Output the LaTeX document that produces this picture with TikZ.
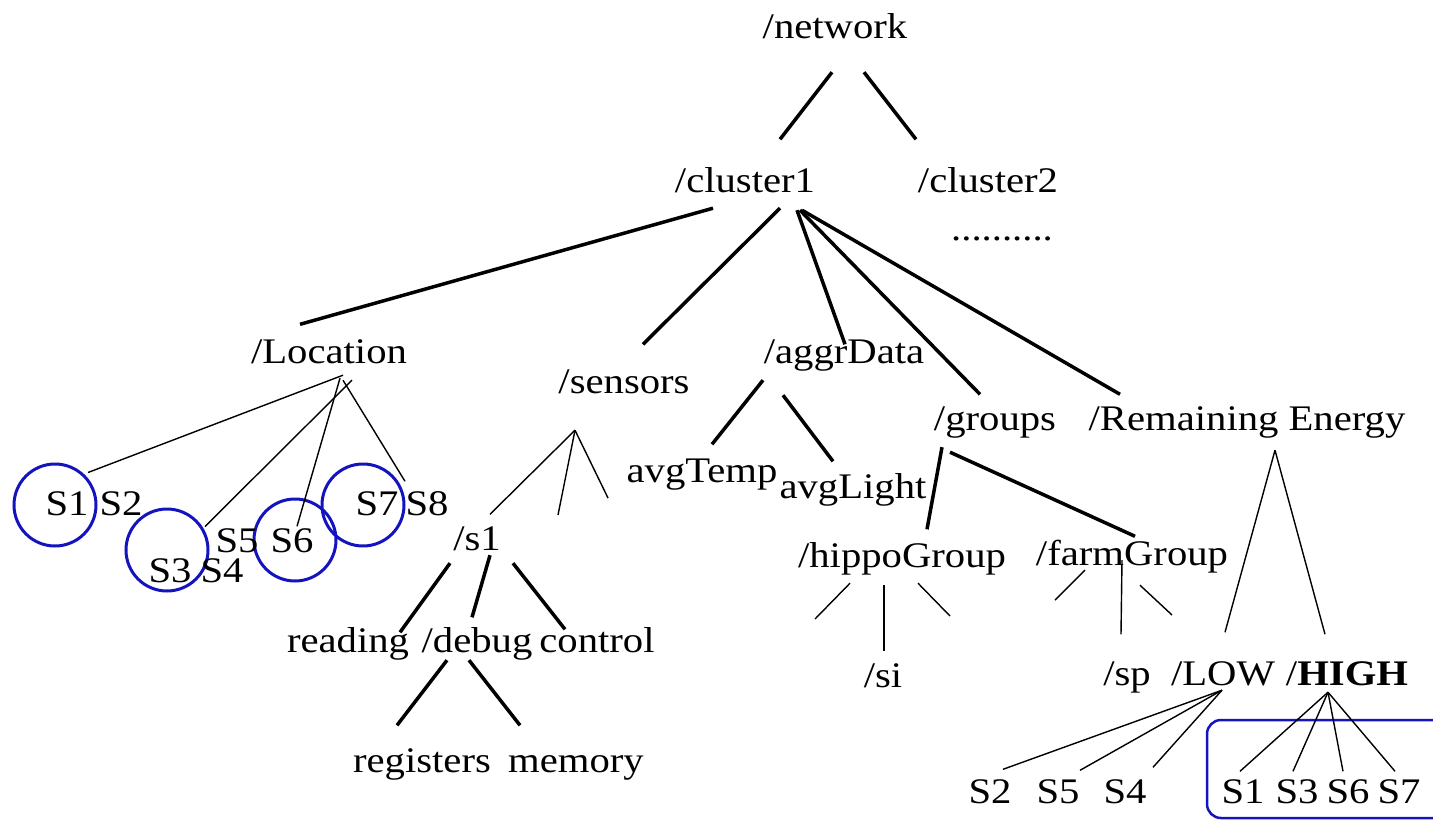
\documentclass[tikz,border=0pt]{standalone}
\usepackage{fontspec}
\setmainfont{Liberation Serif}[FakeStretch=1.13]
\usetikzlibrary{calc}
\definecolor{grpblue}{RGB}{20,20,190}

\begin{document}
\begin{tikzpicture}[x=1pt,y=-1pt]
    \tikzstyle{lbl}=[anchor=base, inner sep=0pt, text height=24.5pt, text depth=8pt, font=\fontsize{36}{40}\selectfont]
    \tikzstyle{thk}=[line width=3.5pt]
    \tikzstyle{thn}=[line width=1.4pt]
    \tikzstyle{ring}=[draw=grpblue, circle, line width=3pt, minimum size=82pt, inner sep=0pt]
    \useasboundingbox (0,0) rectangle (1433,820);
    \clip (0,0) rectangle (1433,820);
    % upper levels
    \node[lbl] (network) at (835,38) {/network};
    \node[lbl] (clusterA) at (745,192) {/cluster1};
    \node[lbl] (clusterB) at (988,192) {/cluster2};
    \node[lbl] (more) at (1002,240) {..........};
    \node[lbl] (location) at (329,363) {/Location};
    \node[lbl] (sensors) at (624,393) {/sensors};
    \node[lbl] (aggr) at (844,363) {/aggrData};
    \node[lbl] (groups) at (995,430) {/groups};
    \node[lbl] (energy) at (1247,430) {/Remaining Energy};
    \node[lbl] (avgtemp) at (702,482) {avgTemp};
    \node[lbl] (avglight) at (853,498) {avgLight};
    \node[lbl] (sone) at (477,550) {/s1};
    \node[lbl] (reading) at (348,652) {reading};
    \node[lbl] (debug) at (477,652) {/debug};
    \node[lbl] (control) at (597,652) {control};
    \node[lbl] (registers) at (422,772) {registers};
    \node[lbl] (memory) at (576,772) {memory};
    \node[lbl] (hippo) at (902,567) {/hippoGroup};
    \node[lbl] (farm) at (1132,565) {/farmGroup};
    \node[lbl] (si) at (883,687) {/si};
    \node[lbl] (sp) at (1127,685) {/sp};
    \node[lbl] (low) at (1223,685) {/LOW};
    \node[lbl] (high) at (1347,685) {/\textbf{HIGH}};
    % sensors under /Location
    \node[ring] (ring1) at (55,505) {};
    \node[ring] (ring3) at (167,550) {};
    \node[ring] (ring6) at (295,540) {};
    \node[ring] (ring7) at (363,505) {};
    \node[lbl] (ls1) at (67,515) {S1};
    \node[lbl] (ls2) at (121,515) {S2};
    \node[lbl] (ls3) at (170,582) {S3};
    \node[lbl] (ls4) at (222,582) {S4};
    \node[lbl] (ls5) at (237,552) {S5};
    \node[lbl] (ls6) at (292,552) {S6};
    \node[lbl] (ls7) at (377,515) {S7};
    \node[lbl] (ls8) at (427,515) {S8};
    % sensors under /LOW and /HIGH
    \node[lbl] (ws2) at (990,803) {S2};
    \node[lbl] (ws5) at (1058,803) {S5};
    \node[lbl] (ws4) at (1125,803) {S4};
    \node[lbl] (hs1) at (1243,803) {S1};
    \node[lbl] (hs3) at (1297,803) {S3};
    \node[lbl] (hs6) at (1348,803) {S6};
    \node[lbl] (hs7) at (1399,803) {S7};
    \draw[grpblue, line width=2.5pt, rounded corners=14pt] (1207,720) rectangle (1455,818);
    % open branches
    \coordinate (sensA) at (558,515);
    \coordinate (sensB) at (608,498);
    \coordinate (hipA) at (815,619);
    \coordinate (hipB) at (950,616);
    \coordinate (farmA) at (1055,600);
    \coordinate (farmB) at (1172,615);
    \foreach \p/\ax/\ay/\c/\bx/\by in
    {network/-3/26/clusterA/35/-28, network/29/26/clusterB/-72/-28,
     clusterA/-32/8/location/-29/-14, clusterA/35/8/sensors/19/-24,
     clusterA/52/10/aggr/1/6, clusterA/55/10/groups/-15/-11,
     clusterA/57/10/energy/-127/-11, aggr/-81/9/avgtemp/10/-13,
     aggr/-61/24/avglight/-20/-12, sone/-27/5/reading/52/5,
     sone/13/-3/debug/-5/-10, sone/36/5/control/-32/2,
     debug/-30/0/registers/-25/-22, debug/-8/0/memory/-56/-22,
     groups/-53/9/hippo/25/-13, groups/-45/14/farm/3/-4}
    {\draw[thk] ($(\p.south)+(\ax,\ay)$) -- ($(\c.north)+(\bx,\by)$);}
    \foreach \p/\ax/\ay/\c/\bx/\by in
    {location/14/4/ring1/33/10, location/23/9/ring3/38/19,
     location/11/7/ls6/5/-1, location/14/9/ls8/-22/-9,
     sensors/-49/29/sone/13/-11, hippo/-18/10/si/1/-11,
     farm/-10/-13/sp/-6/-26, energy/28/12/low/2/-28,
     energy/28/12/high/-22/-26, low/-1/-3/ws2/13/-9,
     low/-1/-3/ws5/22/-8, low/-1/-3/ws4/28/-11,
     high/-19/-1/hs1/-3/-7, high/-19/-1/hs3/-4/-7,
     high/-19/-1/hs6/-5/-7, high/-19/-1/hs7/-4/-7}
    {\draw[thn] ($(\p.south)+(\ax,\ay)$) -- ($(\c.north)+(\bx,\by)$);}
    \foreach \p/\ax/\ay/\c in
    {sensors/-49/29/sensA, sensors/-49/29/sensB, hippo/-52/8/hipA,
     hippo/16/8/hipB, farm/-47/-3/farmA, farm/8/12/farmB}
    {\draw[thn] ($(\p.south)+(\ax,\ay)$) -- (\c);}
\end{tikzpicture}
\end{document}
